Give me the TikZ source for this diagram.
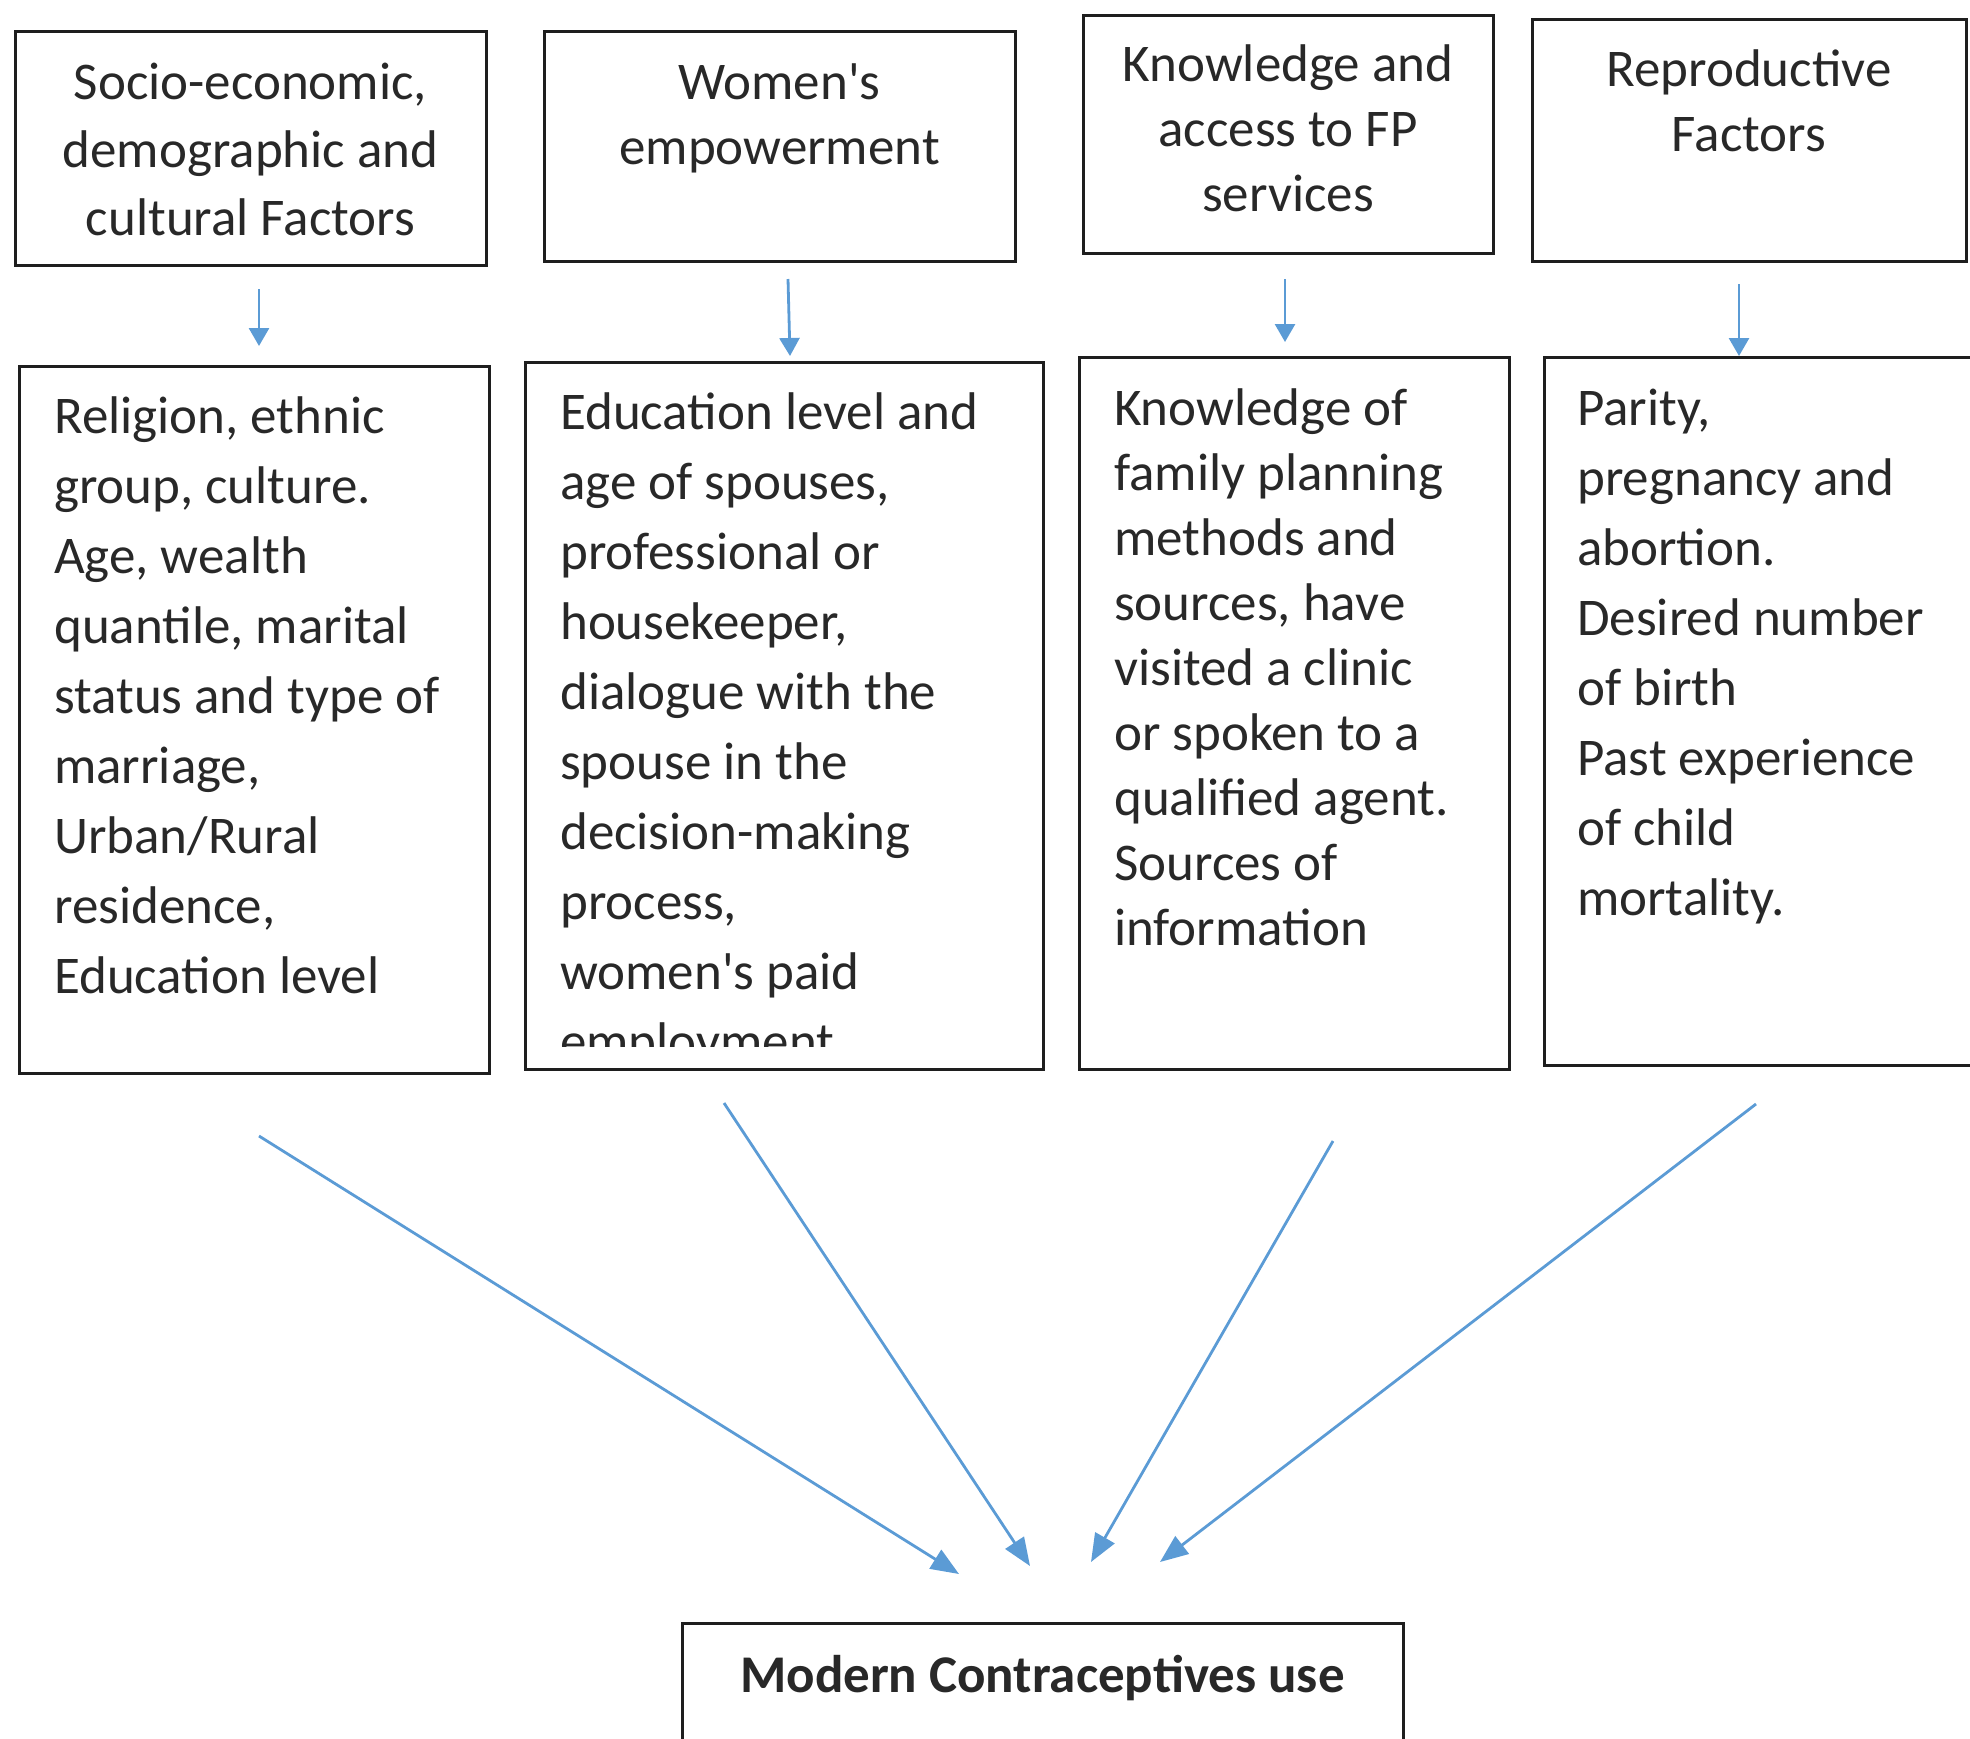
\documentclass[tikz,border=0pt]{standalone}
\usepackage{fontspec}
\setmainfont{Carlito}
\usetikzlibrary{arrows.meta}
\definecolor{arrblue}{RGB}{91,155,213}
\definecolor{boxline}{RGB}{30,30,30}
\definecolor{txtc}{RGB}{40,40,40}
\newcommand{\firstln}{\rule{0pt}{50pt}}
\begin{document}
\begin{tikzpicture}[x=1pt,y=-1pt,
  box/.style={draw=boxline, line width=3pt, inner sep=0pt},
  arr/.style={draw=arrblue, line width=2.8pt, -{Triangle[length=28pt,width=22pt]}},
  sarr/.style={draw=arrblue, line width=2.8pt, -{Triangle[length=18pt,width=20pt]}},
  ttext/.style={inner sep=0pt, text=txtc, align=center, anchor=north},
  ltext/.style={inner sep=0pt, text=txtc, align=left, anchor=north west},
]
\useasboundingbox (0,0) rectangle (1970,1738);

% top boxes
\node[box, minimum width=471pt, minimum height=234pt] (b1) at (250.5,148) {};
\node[box, minimum width=471pt, minimum height=230pt] (b2) at (779.5,146) {};
\node[box, minimum width=410pt, minimum height=238pt] (b3) at (1288,134) {};
\node[box, minimum width=434pt, minimum height=242pt] (b4) at (1749,140) {};

\node[ttext, font=\fontsize{53}{68}\selectfont] (t1) at (250.5,49) {\firstln Socio-economic,\\demographic and\\cultural Factors};
\node[ttext, font=\fontsize{53}{65}\selectfont] (t2) at (779.5,49) {\firstln Women\textquotesingle s\\empowerment};
\node[ttext, font=\fontsize{53}{65}\selectfont] (t3) at (1288,31) {\firstln Knowledge and\\access to FP\\services};
\node[ttext, font=\fontsize{53}{65}\selectfont] (t4) at (1749,36) {\firstln Reproductive\\Factors};

% lower boxes
\node[box, minimum width=470pt, minimum height=707pt] (l1) at (254,719.5) {};
\node[box, minimum width=518pt, minimum height=707pt] (l2) at (784,715.5) {};
\node[box, minimum width=430pt, minimum height=712pt] (l3) at (1294,713) {};
\node[box, minimum width=441pt, minimum height=708pt] (l4) at (1764.5,711) {};

\node[ltext, font=\fontsize{53}{70}\selectfont] (x1) at (54,383) {\firstln Religion, ethnic\\group, culture.\\Age, wealth\\quantile, marital\\status and type of\\marriage,\\Urban/Rural\\residence,\\Education level};
\begin{scope}
  \clip (525,362) rectangle (1043,1046);
  \node[ltext, font=\fontsize{53}{70}\selectfont] (x2) at (560,379) {\firstln Education level and\\age of spouses,\\professional or\\housekeeper,\\dialogue with the\\spouse in the\\decision-making\\process,\\women\textquotesingle s paid\\employment};
\end{scope}
\node[ltext, font=\fontsize{53}{65}\selectfont] (x3) at (1114,375) {\firstln Knowledge of\\family planning\\methods and\\sources, have\\visited a clinic\\or spoken to a\\qualified agent.\\Sources of\\information};
\node[ltext, font=\fontsize{53}{70}\selectfont] (x4) at (1577,375) {\firstln Parity,\\pregnancy and\\abortion.\\Desired number\\of birth\\Past experience\\of child\\mortality.};

% bottom box
\node[box, minimum width=721pt, minimum height=137pt] (m) at (1042.5,1691.5) {};
\node[inner sep=0pt, text=txtc, anchor=base, font=\fontsize{53}{64}\selectfont\bfseries] (mt) at (1042.5,1692) {Modern Contraceptives use};

% small arrows
\coordinate (a1s) at (259,289);  \coordinate (a1e) at (259,346);
\coordinate (a2s) at (788,279);  \coordinate (a2e) at (790,356);
\coordinate (a3s) at (1285,279); \coordinate (a3e) at (1285,342);
\coordinate (a4s) at (1739,284); \coordinate (a4e) at (1739,356);
\draw[sarr] (a1s) -- (a1e);
\draw[sarr] (a2s) -- (a2e);
\draw[sarr] (a3s) -- (a3e);
\draw[sarr] (a4s) -- (a4e);

% big arrows
\coordinate (s1) at (259,1136);  \coordinate (e1) at (959,1574);
\coordinate (s2) at (724,1103);  \coordinate (e2) at (1030,1566);
\coordinate (s3) at (1333,1141); \coordinate (e3) at (1091,1562);
\coordinate (s4) at (1756,1104); \coordinate (e4) at (1160,1562);
\draw[arr] (s1) -- (e1);
\draw[arr] (s2) -- (e2);
\draw[arr] (s3) -- (e3);
\draw[arr] (s4) -- (e4);
\end{tikzpicture}
\end{document}
